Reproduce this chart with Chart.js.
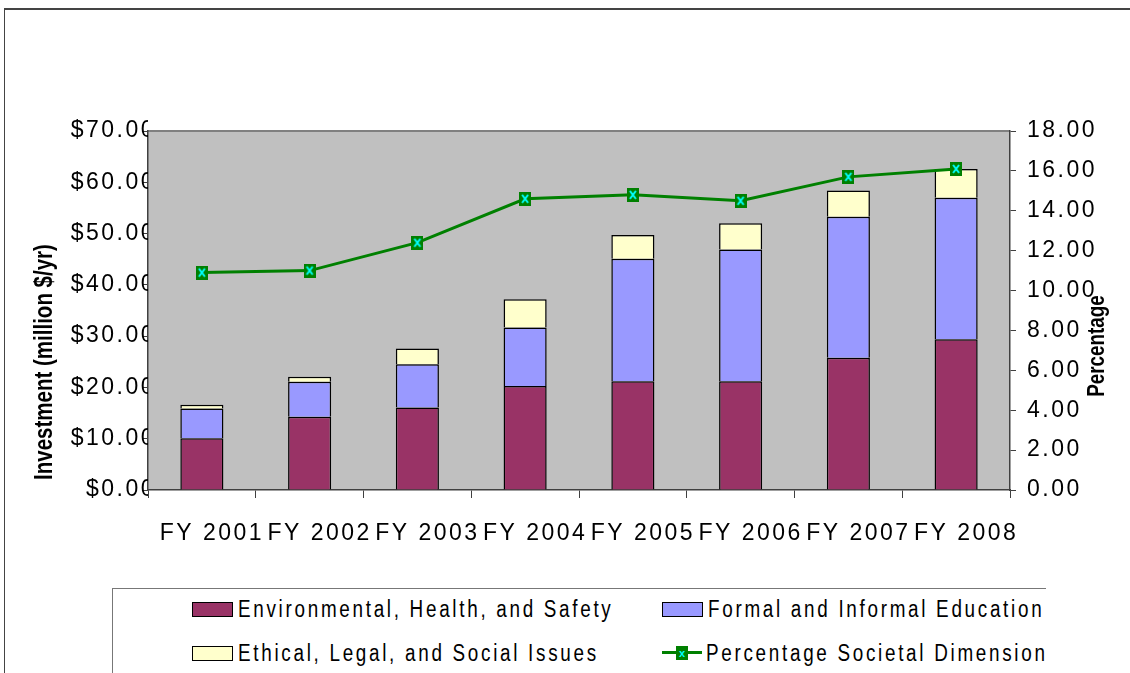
<!DOCTYPE html>
<html>
<head>
<meta charset="utf-8">
<script src="https://cdn.jsdelivr.net/npm/chart.js@4/dist/chart.umd.min.js"></script>
<style>
  body { margin: 0; background: #fff; }
  #wrap { position: relative; width: 1130px; height: 673px; overflow: hidden; }
  #frame { position: absolute; left: 4px; top: 8px; width: 1200px; height: 800px;
           border-top: 2px solid #444; border-left: 1px solid #444; }
  canvas { position: absolute; left: 0; top: 0; }
  #legend { position: absolute; left: 112px; top: 588px; width: 933px; height: 120px;
            border-top: 1px solid #777; border-left: 1px solid #777; background: #fff;
            overflow: hidden; font-family: "Liberation Sans", Arial, sans-serif;
            font-size: 23px; letter-spacing: 3.3px; color: #000; }
  .item { position: absolute; white-space: nowrap; display: flex; align-items: center; height: 26px; }
  .item .t { display: inline-block; transform: scaleX(0.82); transform-origin: left center; }
  .box { width: 39px; height: 13px; border: 1px solid #000; margin-right: 5px; flex: none; }
  .ln { position: relative; width: 40px; height: 14px; margin-right: 4px; flex: none; }
  .ln i { position: absolute; left: 0; right: 0; top: 5px; height: 3px; background: #008000; }
  .ln b { position: absolute; left: 14px; top: 0; width: 12px; height: 14px; background: #008000;
          color: #0ff; font: bold 11px sans-serif; letter-spacing: 0; text-align: center; line-height: 14px; }
</style>
</head>
<body>
<div id="wrap">
  <div id="frame"></div>
  <canvas id="chart" width="1130" height="673"></canvas>
  <div id="legend"></div>
</div>
<script>
const years = ['FY 2001', 'FY 2002', 'FY 2003', 'FY 2004', 'FY 2005', 'FY 2006', 'FY 2007', 'FY 2008'];
const ehs = [10.1, 14.3, 16.1, 20.3, 21.2, 21.2, 25.8, 29.4];
const education = [5.8, 6.8, 8.4, 11.4, 23.9, 25.7, 27.5, 27.6];
const elsi = [0.7, 1.0, 3.1, 5.5, 4.6, 5.1, 5.1, 5.6];
const percentage = [10.9, 11.0, 12.4, 14.6, 14.8, 14.5, 15.7, 16.1];

const sans = '"Liberation Sans", Arial, sans-serif';

// green square with a cyan x, used as the point marker
const marker = document.createElement('canvas');
marker.width = 12; marker.height = 14;
(function () {
  const c = marker.getContext('2d');
  c.fillStyle = '#008000';
  c.fillRect(0, 0, 12, 14);
  c.strokeStyle = '#00ffff';
  c.lineWidth = 2;
  c.beginPath();
  c.moveTo(3, 3); c.lineTo(9, 11);
  c.moveTo(9, 3); c.lineTo(3, 11);
  c.stroke();
})();

// rotated, narrowed axis title
function vtitle(ctx, text, size, x, y) {
  ctx.save();
  ctx.letterSpacing = '0px';
  ctx.fillStyle = '#000';
  ctx.textAlign = 'center';
  ctx.textBaseline = 'middle';
  ctx.font = 'bold ' + size + 'px ' + sans;
  ctx.translate(x, y);
  ctx.rotate(-Math.PI / 2);
  ctx.scale(0.82, 1);
  ctx.fillText(text, 0, 0);
  ctx.restore();
}

// wide letter spacing for tick labels, grey plot area, axis titles
const spacing = {
  id: 'spacing',
  beforeUpdate(chart) { chart.ctx.letterSpacing = '2.5px'; },
  beforeDraw(chart) {
    const ctx = chart.ctx, a = chart.chartArea;
    ctx.letterSpacing = '2.5px';
    ctx.save();
    ctx.fillStyle = '#c0c0c0';
    ctx.fillRect(a.left, a.top, a.right - a.left, a.bottom - a.top);
    ctx.strokeStyle = '#808080';
    ctx.lineWidth = 2;
    ctx.beginPath();
    ctx.moveTo(a.left, a.top);
    ctx.lineTo(a.right, a.top);
    ctx.stroke();
    ctx.restore();
  },
  afterDraw(chart) {
    vtitle(chart.ctx, 'Investment (million $/yr)', 25, 45, 362);
    vtitle(chart.ctx, 'Percentage', 23, 1098, 346);
  }
};

const tickFont = { family: sans, size: 23 };

var chart = new Chart(document.getElementById('chart'), {
  type: 'bar',
  data: {
    labels: years,
    datasets: [{
      type: 'line',
      label: 'Percentage Societal Dimension',
      data: percentage,
      yAxisID: 'y2',
      borderColor: '#008000',
      backgroundColor: '#008000',
      borderWidth: 3,
      tension: 0,
      pointStyle: marker,
      order: 0
    }, {
      label: 'Environmental, Health, and Safety',
      data: ehs,
      backgroundColor: '#993366',
      borderColor: '#000',
      borderWidth: 1.5,
      order: 1
    }, {
      label: 'Formal and Informal Education',
      data: education,
      backgroundColor: '#9999ff',
      borderColor: '#000',
      borderWidth: 1.5,
      order: 1
    }, {
      label: 'Ethical, Legal, and Social Issues',
      data: elsi,
      backgroundColor: '#ffffcc',
      borderColor: '#000',
      borderWidth: 1.5,
      order: 1
    }]
  },
  options: {
    responsive: false,
    animation: false,
    devicePixelRatio: 1,
    layout: { padding: { top: 131, left: 0, right: 0, bottom: 0 } },
    datasets: { bar: { barPercentage: 0.4, categoryPercentage: 1 } },
    plugins: { legend: { display: false }, tooltip: { enabled: false } },
    scales: {
      x: {
        stacked: true,
        afterFit(s) { s.height = 183; },
        grid: { offset: true, drawOnChartArea: false, tickLength: 8, color: '#404040' },
        border: { color: '#404040', width: 1.5 },
        ticks: { color: '#000', font: tickFont, maxRotation: 0, autoSkip: false,
                 padding: 22, labelOffset: 10 }
      },
      y: {
        stacked: true,
        min: 0, max: 70,
        afterFit(s) { s.width = 148; },
        grid: { drawOnChartArea: false, tickLength: 5, color: '#404040' },
        border: { color: '#404040', width: 1.5 },
        ticks: { stepSize: 10, color: '#000', font: tickFont, padding: -13,
                 callback: v => '$' + v.toFixed(2) }
      },
      y2: {
        position: 'right',
        min: 0, max: 18,
        afterFit(s) { s.width = 120; },
        grid: { drawOnChartArea: false, tickLength: 6, color: '#404040' },
        border: { color: '#404040', width: 1.5 },
        ticks: { stepSize: 2, color: '#000', font: tickFont, padding: 11,
                 callback: v => v.toFixed(2) }
      }
    }
  },
  plugins: [spacing]
});

// legend in two columns, built from the datasets
const legendOrder = [1, 2, 3, 0];
const legend = document.getElementById('legend');
legendOrder.forEach((di, i) => {
  const ds = chart.data.datasets[di];
  const el = document.createElement('div');
  el.className = 'item';
  el.style.left = (i % 2 === 0 ? 79 : 549) + 'px';
  el.style.top = (i < 2 ? 7 : 51) + 'px';
  let sw;
  if (ds.type === 'line') {
    sw = '<span class="ln"><i></i><b>x</b></span>';
  } else {
    sw = '<span class="box" style="background:' + ds.backgroundColor + '"></span>';
  }
  el.innerHTML = sw + '<span class="t">' + ds.label + '</span>';
  legend.appendChild(el);
});
</script>
</body>
</html>
